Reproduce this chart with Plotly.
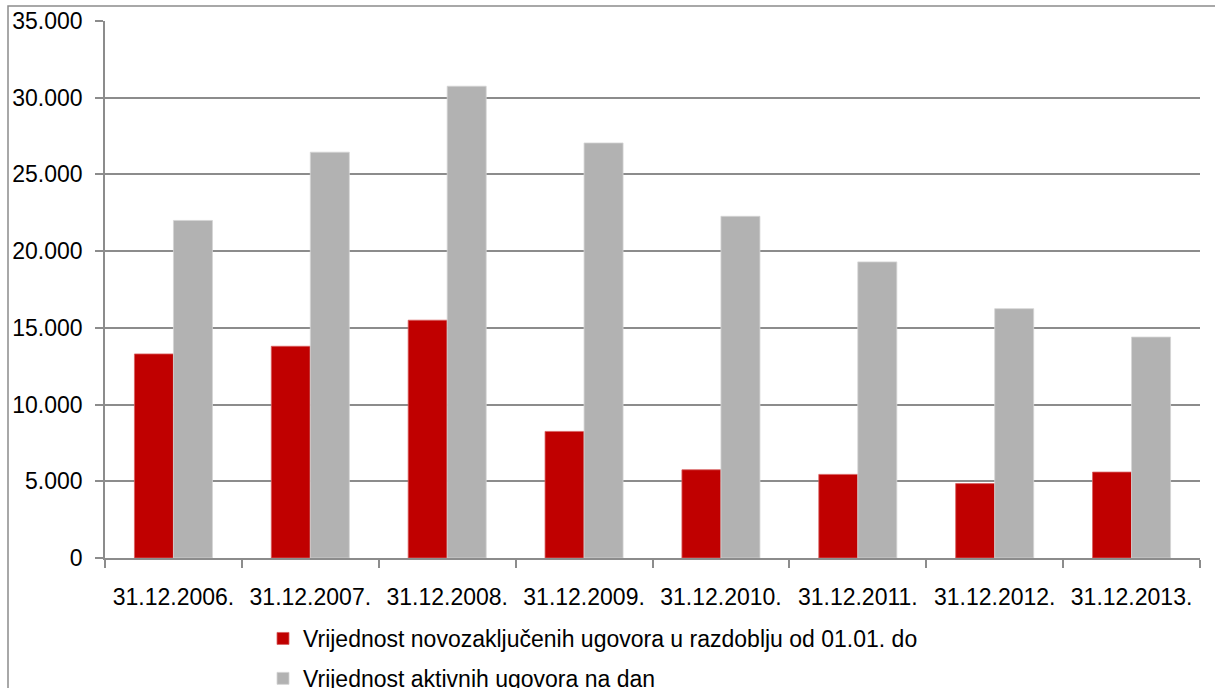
import plotly.graph_objects as go

# Reporting dates (category axis)
categories = ["31.12.2006.", "31.12.2007.", "31.12.2008.", "31.12.2009.",
              "31.12.2010.", "31.12.2011.", "31.12.2012.", "31.12.2013."]

# Value of newly concluded contracts in the period from 01.01. to date
new_contracts = [13300, 13800, 15500, 8250, 5750, 5450, 4850, 5600]

# Value of active contracts on the date
active_contracts = [22000, 26450, 30750, 27050, 22270, 19300, 16250, 14400]

series_names = [
    "Vrijednost novozaključenih ugovora u razdoblju od 01.01. do",
    "Vrijednost aktivnih ugovora na dan",
]

y_ticks = [0, 5000, 10000, 15000, 20000, 25000, 30000, 35000]

FONT = "Liberation Sans, Arial, sans-serif"
FS = 23
GRID = "#8c8c8c"

fig = go.Figure()
fig.add_trace(go.Bar(
    x=categories, y=new_contracts, name=series_names[0], legendgroup="a",
    marker=dict(color="#C00000", line=dict(color="#d86060", width=0.8)),
))
fig.add_trace(go.Bar(
    x=categories, y=active_contracts, name=series_names[1], legendgroup="b",
    marker=dict(color="#B2B2B2", line=dict(color="#d4d4d4", width=0.8)),
))

W, H = 1215, 688
L, R, T, B = 105, 15, 21, 130
pw, ph = W - L - R, H - T - B

def px_x(x):
    return (x - L) / pw

def px_y(y):
    return (H - B - y) / ph

# Outer chart frame (extends past the page on the right and bottom)
fig.add_shape(type="rect", xref="paper", yref="paper",
              x0=px_x(8), x1=px_x(1230), y0=px_y(6), y1=px_y(720),
              line=dict(color=GRID, width=1.5), fillcolor="rgba(0,0,0,0)",
              layer="below")

fig.update_layout(
    width=W, height=H,
    margin=dict(l=L, r=R, t=T, b=B, pad=0, autoexpand=False),
    paper_bgcolor="white", plot_bgcolor="white",
    separators=",.",
    barmode="group", bargap=0.43, bargroupgap=0,
    font=dict(family=FONT, size=FS, color="#000000"),
    showlegend=True,
    legend=dict(
        x=px_x(263), y=px_y(617), xanchor="left", yanchor="top",
        orientation="v", font=dict(family=FONT, size=FS, color="#000000"),
        bgcolor="rgba(0,0,0,0)", tracegroupgap=7, itemwidth=30,
    ),
    xaxis=dict(
        type="category", showline=True, linecolor=GRID, linewidth=1.5,
        ticks="outside", tickson="boundaries", ticklen=8, tickcolor=GRID,
        tickwidth=1.5, showgrid=False, ticklabelstandoff=18,
        tickfont=dict(family=FONT, size=FS, color="#000000"),
    ),
    yaxis=dict(
        range=[0, 35000], tickvals=y_ticks, tickformat=",d",
        showline=True, linecolor=GRID, linewidth=1.5,
        ticks="outside", ticklen=8, tickcolor=GRID, tickwidth=1.5,
        showgrid=True, gridcolor=GRID, gridwidth=1.5,
        zeroline=False, ticklabelstandoff=8,
        tickfont=dict(family=FONT, size=FS, color="#000000"),
    ),
)

fig.write_html("out.html")
